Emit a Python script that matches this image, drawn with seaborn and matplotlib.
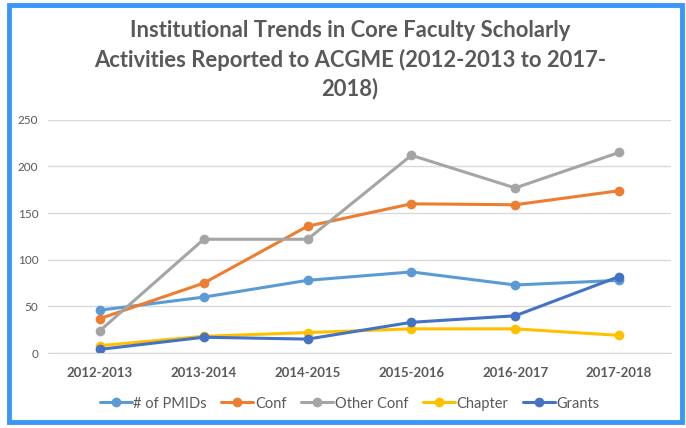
import matplotlib
matplotlib.use("Agg")
import matplotlib.pyplot as plt
from matplotlib.patches import Rectangle
import pandas as pd
import seaborn as sns

# -------------------------------
# Data
# -------------------------------
years = ["2012-2013", "2013-2014", "2014-2015", "2015-2016", "2016-2017", "2017-2018"]
pmids = [46, 60, 78, 87, 73, 78]
conf = [37, 75, 136, 160, 159, 174]
other_conf = [24, 122, 122, 212, 177, 215]
chapter = [8, 18, 22, 26, 26, 19]
grants = [4, 17, 15, 33, 40, 82]

series_names = ["# of PMIDs", "Conf", "Other Conf", "Chapter", "Grants"]
colors = ["#5B9BD5", "#ED7D31", "#A5A5A5", "#FFC000", "#4472C4"]

rows = []
for name, vals in zip(series_names, [pmids, conf, other_conf, chapter, grants]):
    for yr, v in zip(years, vals):
        rows.append({"year": yr, "value": v, "series": name})
df = pd.DataFrame(rows)

# -------------------------------
# Plot
# -------------------------------
sns.set_style("white")
plt.rcParams["font.family"] = ["Lato", "DejaVu Sans"]

fig = plt.figure(figsize=(6.86, 4.28), dpi=100)
ax = fig.add_axes([0.070, 0.175, 0.908, 0.545])

sns.lineplot(data=df, x="year", y="value", hue="series", hue_order=series_names,
             palette=colors, marker="o", markersize=7, markeredgewidth=0,
             linewidth=2.2, sort=False, ax=ax)

ax.set_xlim(-0.5, 5.5)
ax.set_ylim(0, 250)
ax.set_yticks([0, 50, 100, 150, 200, 250])
ax.grid(axis="y", color="#D9D9D9", linewidth=1)
ax.set_axisbelow(True)
for s in ["top", "right", "left"]:
    ax.spines[s].set_visible(False)
ax.spines["bottom"].set_color("#D9D9D9")
ax.set_xlabel("")
ax.set_ylabel("")
ax.tick_params(axis="both", length=0)
ax.tick_params(axis="y", labelsize=8.5, labelcolor="#595959", pad=7)
ax.tick_params(axis="x", labelsize=9.5, labelcolor="#595959", pad=10)
for lbl in ax.get_xticklabels():
    lbl.set_fontweight("bold")

handles, labels = ax.get_legend_handles_labels()
ax.legend(handles, labels, loc="upper center", bbox_to_anchor=(0.484, -0.13), ncol=5,
          frameon=False, fontsize=10.5, handlelength=2.2, handletextpad=0.1,
          columnspacing=1.0, labelcolor="#595959")

fig.text(0.51, 0.86, "Institutional Trends in Core Faculty Scholarly\n"
         "Activities Reported to ACGME (2012-2013 to 2017-\n2018)",
         ha="center", va="center", fontsize=15.8, fontweight="bold",
         color="#595959", linespacing=1.4)

# blue frame around the chart
fig.patches.append(Rectangle((0.013, 0.013), 0.981, 0.975, transform=fig.transFigure,
                             fill=False, edgecolor="#3A96F7", linewidth=3.5))

plt.savefig("out.png", dpi=100)
